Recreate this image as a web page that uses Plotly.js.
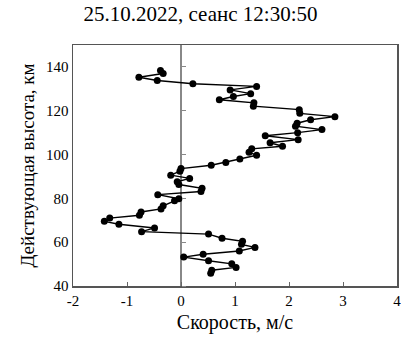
<!DOCTYPE html>
<html>
<head>
<meta charset="utf-8">
<script src="https://cdn.plot.ly/plotly-3.0.1.min.js"></script>
<style>html,body{margin:0;padding:0;background:#fff;}#chart{width:401px;height:347px;}</style>
</head>
<body>
<div id="chart"></div>
<script>
// Data (height km, velocity m/s)
const heightKm = [138.4, 137.0, 135.3, 133.8, 132.3, 131.1, 129.5, 127.8, 126.5, 125.0,
  123.6, 122.1, 120.5, 118.8, 117.3, 115.9, 114.3, 112.9, 111.4, 110.0,
  108.6, 106.8, 105.4, 103.8, 102.6, 101.0, 99.7, 98.0, 96.4, 95.1,
  93.6, 92.4, 90.6, 89.1, 87.6, 86.3, 84.6, 83.1, 81.7, 79.8,
  78.9, 76.6, 75.2, 73.8, 72.3, 71.0, 69.5, 68.2, 66.5, 64.8,
  63.7, 61.8, 60.4, 59.0, 57.6, 56.0, 54.5, 53.2, 51.5, 50.1,
  48.5, 47.2, 45.8];
const velocity = [-0.38, -0.33, -0.78, -0.44, 0.22, 1.40, 0.91, 1.29, 0.97, 0.71,
  1.35, 1.34, 2.19, 2.20, 2.85, 2.40, 2.15, 2.12, 2.61, 2.16,
  1.56, 2.17, 1.65, 1.88, 1.31, 1.26, 1.40, 1.09, 0.83, 0.56,
  0.00, -0.02, -0.19, 0.16, -0.07, -0.04, 0.39, 0.37, -0.43, -0.04,
  -0.12, -0.33, -0.37, -0.74, -0.77, -1.32, -1.42, -1.15, -0.49, -0.73,
  0.51, 0.76, 1.14, 1.12, 1.37, 1.08, 0.41, 0.05, 0.51, 0.94,
  1.02, 0.57, 0.55];
const xTickVals = [-2, -1, 0, 1, 2, 3, 4];
const xTickText = ['-2', '-1', '0', '1', '2', '3', '4'];
const yTickVals = [40, 60, 80, 100, 120, 140];
const yTickText = ['40', '60', '80', '100', '120', '140'];
const titleText = '25.10.2022, сеанс 12:30:50';
const xTitle = 'Скорость, м/с';
const yTitle = 'Действующая высота, км';

const font = 'Liberation Serif, Times New Roman, serif';

const traces = [{
  x: velocity, y: heightKm, type: 'scatter', mode: 'lines+markers',
  line: {color: '#000', width: 1.4},
  marker: {color: '#000', size: 7},
  hoverinfo: 'none', showlegend: false
}, {
  x: [null], y: [null], yaxis: 'y2', type: 'scatter', showlegend: false, hoverinfo: 'none'
}];

const layout = {
  width: 401, height: 347,
  margin: {l: 73, r: 4, t: 45, b: 61},
  paper_bgcolor: '#fff', plot_bgcolor: '#fff',
  font: {family: font, color: '#000', size: 15},
  title: {text: titleText, font: {family: font, size: 21, color: '#000'}, x: 0.5, xanchor: 'center', y: 0.962, yanchor: 'middle'},
  xaxis: {
    range: [-2, 4], tickvals: xTickVals, ticktext: xTickText,
    ticks: 'inside', ticklen: 4, tickcolor: '#666', tickwidth: 1,
    ticklabeloverflow: 'allow',
    showgrid: false, zeroline: true, zerolinecolor: '#888', zerolinewidth: 1.5,
    showline: true, mirror: true, linecolor: '#555', linewidth: 1.5,
    tickfont: {family: font, size: 15, color: '#000'},
    title: {text: xTitle, font: {family: font, size: 20, color: '#000'}, standoff: 7}
  },
  yaxis: {
    range: [40, 150], tickvals: yTickVals, ticktext: yTickText,
    ticks: '', showgrid: false, zeroline: false,
    showline: true, mirror: true, linecolor: '#555', linewidth: 1.5,
    tickfont: {family: font, size: 15, color: '#000'},
    title: {text: yTitle, font: {family: font, size: 19, color: '#000'}, standoff: 6}
  },
  yaxis2: {
    range: [40, 150], overlaying: 'y', anchor: 'free', position: 0.333, side: 'right',
    tickvals: yTickVals, showticklabels: false, ticks: 'outside', ticklen: 4,
    tickcolor: '#888', showgrid: false, zeroline: false, showline: false
  }
};

Plotly.newPlot('chart', traces, layout, {staticPlot: true, displayModeBar: false});
</script>
</body>
</html>
